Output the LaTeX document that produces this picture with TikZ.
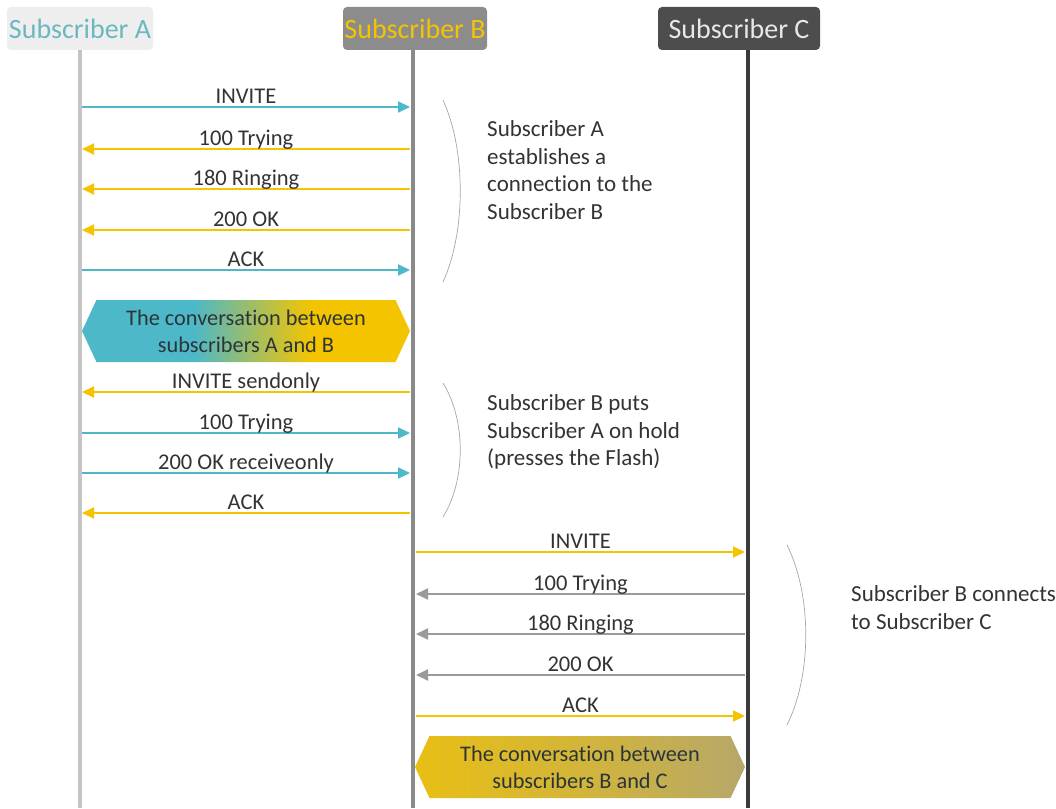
\documentclass[tikz,border=0pt]{standalone}
\usepackage{fontspec}
\setmainfont{Carlito}[Ligatures={NoCommon}]
\usetikzlibrary{arrows.meta,shapes.symbols}
\definecolor{cteal}{HTML}{4DB8C8}
\definecolor{cyel}{HTML}{F5C400}
\definecolor{cgrey}{HTML}{9A9A9A}
\definecolor{ctxt}{HTML}{333333}
\definecolor{lineA}{HTML}{C4C4C4}
\definecolor{lineB}{HTML}{8A8A8A}
\definecolor{lineC}{HTML}{3A3A3A}
\definecolor{hdrA}{HTML}{EEEEEE}
\definecolor{hdrAt}{HTML}{6CB8C0}
\definecolor{hdrB}{HTML}{8C8C8C}
\definecolor{hdrC}{HTML}{4D4D4D}
\definecolor{hdrCt}{HTML}{E8E8E8}
\definecolor{convtxt}{HTML}{2B3538}
\definecolor{bcmid}{HTML}{D2B53A}
\pgfdeclarehorizontalshading{abshade}{100bp}{color(0bp)=(cteal); color(42bp)=(cteal); color(60bp)=(cyel); color(100bp)=(cyel)}
\pgfdeclarehorizontalshading{bcshade}{100bp}{color(0bp)=(cyel); color(12bp)=(cyel); color(50bp)=(bcmid); color(100bp)=(cgrey)}
\begin{document}
\begin{tikzpicture}[x=1pt,y=-1pt,
  hdr/.style={rounded corners=4pt,minimum height=43pt,font=\fontsize{28}{30}\selectfont,inner xsep=1pt},
  life/.style={line width=4pt},
  msg/.style={line width=2pt,-{Triangle[length=12pt,width=11pt]}},
  lbl/.style={anchor=base,yshift=4pt,font=\fontsize{22.5}{24}\selectfont,text=ctxt,inner sep=0pt},
  note/.style={align=left,anchor=north west,font=\fontsize{23}{27.6}\selectfont,text=ctxt,inner sep=0pt},
  brace/.style={draw=black!35,line width=0.7pt},
  conv/.style={shape=signal,signal to=east and west,signal pointer angle=130,minimum height=62pt,inner xsep=0pt,align=center,font=\fontsize{22.3}{27}\selectfont,text=convtxt}]
\useasboundingbox (0,0) rectangle (1056,808);
% lifelines
\coordinate (Atop) at (80,50); \coordinate (Abot) at (80,808);
\coordinate (Btop) at (413,50); \coordinate (Bbot) at (413,808);
\coordinate (Ctop) at (748,50); \coordinate (Cbot) at (748,808);
\draw[life,lineA] (Atop) -- (Abot);
\draw[life,lineB] (Btop) -- (Bbot);
\draw[life,lineC] (Ctop) -- (Cbot);
% headers
\node[hdr,fill=hdrA,text=hdrAt,minimum width=146pt] (hA) at (80,28.5) {Subscriber A};
\node[hdr,fill=hdrB,text=cyel,minimum width=144pt] (hB) at (415,28.5) {Subscriber B};
\node[hdr,fill=hdrC,text=hdrCt,minimum width=162pt] (hC) at (739,28.5) {Subscriber C};
% A-B messages
\foreach \i/\y in {1/107,2/149,3/189,4/230,5/270,6/392,7/433,8/473,9/513}{
  \coordinate (a\i) at (82,\y); \coordinate (b\i) at (410,\y);}
\draw[msg,cteal] (a1) -- node[lbl]{INVITE} (b1);
\draw[msg,cyel] (b2) -- node[lbl]{100 Trying} (a2);
\draw[msg,cyel] (b3) -- node[lbl]{180 Ringing} (a3);
\draw[msg,cyel] (b4) -- node[lbl]{200 OK} (a4);
\draw[msg,cteal] (a5) -- node[lbl]{ACK} (b5);
\node[conv,shading=abshade,minimum width=328pt] (convAB) at (246,331) {The conversation between\\subscribers A and B};
\draw[msg,cyel] (b6) -- node[lbl]{INVITE sendonly} (a6);
\draw[msg,cteal] (a7) -- node[lbl]{100 Trying} (b7);
\draw[msg,cteal] (a8) -- node[lbl]{200 OK receiveonly} (b8);
\draw[msg,cyel] (b9) -- node[lbl]{ACK} (a9);
% B-C messages
\foreach \i/\y in {1/552,2/594,3/634,4/675,5/716}{
  \coordinate (p\i) at (416,\y); \coordinate (q\i) at (745,\y);}
\draw[msg,cyel] (p1) -- node[lbl]{INVITE} (q1);
\draw[msg,cgrey] (q2) -- node[lbl]{100 Trying} (p2);
\draw[msg,cgrey] (q3) -- node[lbl]{180 Ringing} (p3);
\draw[msg,cgrey] (q4) -- node[lbl]{200 OK} (p4);
\draw[msg,cyel] (p5) -- node[lbl]{ACK} (q5);
\node[conv,shading=bcshade,minimum width=330pt] (convBC) at (580,767) {The conversation between\\subscribers B and C};
% brackets
\coordinate (br1s) at (443,100); \coordinate (br1e) at (443,282);
\draw[brace] (br1s) .. controls (466,150) and (466,232) .. (br1e);
\coordinate (br2s) at (443,383); \coordinate (br2e) at (443,517);
\draw[brace] (br2s) .. controls (466,420) and (466,480) .. (br2e);
\coordinate (br3s) at (787,545); \coordinate (br3e) at (787,725);
\draw[brace] (br3s) .. controls (812,595) and (812,675) .. (br3e);
% notes
\node[note] (n1) at (487,120.5) {Subscriber A\\establishes a\\connection to the\\Subscriber B};
\node[note] (n2) at (487,394.5) {Subscriber B puts\\Subscriber A on hold\\(presses the Flash)};
\node[note] (n3) at (851,585.5) {Subscriber B connects\\to Subscriber C};
\end{tikzpicture}
\end{document}
